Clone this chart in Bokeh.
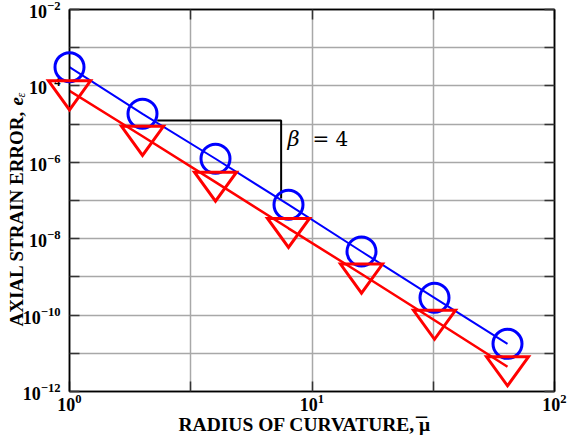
import numpy as np
from bokeh.plotting import figure
from bokeh.models import Range1d, LogAxis, FixedTicker
from bokeh.embed import file_html
from bokeh.resources import INLINE
from bokeh.core.properties import value

# Radius of curvature (refinement levels)
radius = [1, 2, 4, 8, 16, 32, 64]
# Axial strain error for the two formulations
err_circle = [3.09e-4, 1.86e-5, 1.24e-6, 7.76e-8, 4.62e-9, 2.84e-10, 1.77e-11]
err_triangle = [7.48e-5, 4.80e-6, 3.03e-7, 1.87e-8, 1.19e-9, 7.35e-11, 4.46e-12]

# Convergence-rate indicator (beta = 4)
slope_x = [2.30, 7.46, 7.46]
slope_y = [1.24e-5, 1.24e-5, 1.13e-7]

# Tick locations
x_major = [1, 10, 100]
x_minor = [10 ** 0.5, 10 ** 1.5]
y_major = [1e-12, 1e-10, 1e-8, 1e-6, 1e-4, 1e-2]
y_minor = [1e-11, 1e-9, 1e-7, 1e-5, 1e-3]

X_MIN, X_MAX = 1, 100
Y_MIN, Y_MAX = 1e-12, 1e-2

BLUE = "#0000ff"
RED = "#ff0000"
GRID = "#a8a8a8"
SERIF = "Liberation Serif"

# Inverted-triangle marker shape, in decades of each axis
TRI_HALF_W = 0.0866
TRI_UP = 0.26
TRI_DOWN = 0.50

p = figure(width=568, height=441, x_axis_type="log", y_axis_type="log",
           x_range=Range1d(X_MIN, X_MAX), y_range=Range1d(Y_MIN, Y_MAX),
           output_backend="svg", toolbar_location=None,
           min_border_left=69, min_border_right=14,
           min_border_top=9, min_border_bottom=50)
p.background_fill_color = "white"
p.border_fill_color = "white"
p.outline_line_color = "black"
p.outline_line_width = 1.5

bottom_axis = p.below[0]
left_axis = p.left[0]

xt = FixedTicker(ticks=x_major, minor_ticks=x_minor)
yt = FixedTicker(ticks=y_major, minor_ticks=y_minor)
bottom_axis.ticker = xt
left_axis.ticker = yt
p.xgrid.ticker = xt
p.ygrid.ticker = yt

for g in (p.xgrid[0], p.ygrid[0]):
    g.grid_line_color = GRID
    g.grid_line_width = 1.5
    g.minor_grid_line_color = GRID
    g.minor_grid_line_width = 1.5

top_axis = LogAxis(ticker=xt)
right_axis = LogAxis(ticker=yt)
p.add_layout(top_axis, "above")
p.add_layout(right_axis, "right")

for ax in (bottom_axis, left_axis, top_axis, right_axis):
    ax.major_tick_in = 10
    ax.major_tick_out = 0
    ax.minor_tick_in = 10
    ax.minor_tick_out = 0
    ax.major_tick_line_color = "#333333"
    ax.minor_tick_line_color = "#333333"
    ax.major_tick_line_width = 1.5
    ax.minor_tick_line_width = 1.5
    ax.axis_line_color = "black"
    ax.axis_line_width = 1.5
    ax.major_label_text_font = SERIF
    ax.major_label_text_font_style = "bold"
    ax.major_label_text_font_size = "18px"
    ax.major_label_text_color = "black"

# Mirror axes on top and right carry ticks only
for ax in (top_axis, right_axis):
    ax.major_label_text_font_size = "1px"
    ax.major_label_text_alpha = 0
    ax.major_label_standoff = 0

left_axis.major_label_standoff = 9
bottom_axis.major_label_standoff = 2

# Slope indicator
p.line(slope_x, slope_y, line_color="black", line_width=2)

# Series 1: circles
p.line(radius, err_circle, line_color=BLUE, line_width=2)
p.scatter(radius, err_circle, marker="circle", size=29, fill_color=None,
          line_color=BLUE, line_width=3, level="overlay")

# Series 2: inverted triangles
p.line(radius, err_triangle, line_color=RED, line_width=2.5)
tri_xs = [[x * 10 ** -TRI_HALF_W, x * 10 ** TRI_HALF_W, x] for x in radius]
tri_ys = [[y * 10 ** TRI_UP, y * 10 ** TRI_UP, y * 10 ** -TRI_DOWN] for y in err_triangle]
p.patches(tri_xs, tri_ys, fill_color=None, line_color=RED, line_width=3,
          line_join="miter", level="overlay")


def frame_text(text, dx, dy, font=SERIF, style="normal", size="19px",
               align="left", angle=0.0):
    """Text placed at a pixel offset from the lower-left corner of the frame."""
    p.text(x=[X_MIN], y=[Y_MIN], text=[text], x_offset=dx, y_offset=dy,
           angle=angle, text_font=value(font), text_font_style=style,
           text_font_size=size, text_align=align, text_baseline="alphabetic",
           text_color="black", level="overlay")


# Axis titles
frame_text("AXIAL STRAIN ERROR, ", -53, -65, style="bold", angle=np.pi / 2)
frame_text("e", -53, -286, style="bold italic", angle=np.pi / 2)
frame_text("\u03b5", -49, -294, style="italic", size="12px", angle=np.pi / 2)
frame_text("RADIUS OF CURVATURE, \u03bc", 109, 33, style="bold", size="19.5px")
frame_text("\u00af", 352, 33, style="bold", size="22px", align="center")

# Slope annotation text
frame_text("\u03b2", 218, -253, font="DejaVu Serif", style="italic", size="21px")
frame_text("= 4", 243, -253, font="DejaVu Serif", size="20px")

open("out.html", "w").write(file_html(p, INLINE))
